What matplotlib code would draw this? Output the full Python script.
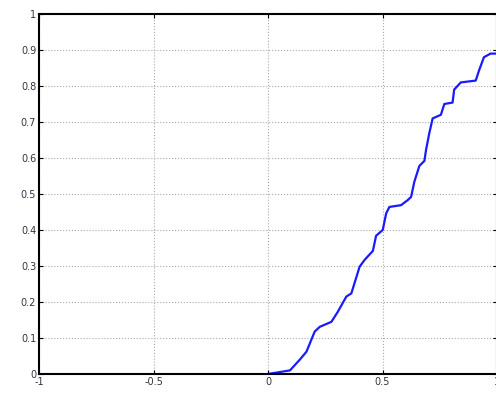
import matplotlib
matplotlib.use("Agg")
import matplotlib.pyplot as plt

# curve
x_vals = [0.0, 0.096, 0.139, 0.168, 0.204, 0.226, 0.277, 0.305, 0.342, 0.364,
          0.40, 0.422, 0.458, 0.472, 0.501, 0.516, 0.530, 0.581, 0.610, 0.625,
          0.639, 0.661, 0.683, 0.690, 0.704, 0.719, 0.755, 0.770, 0.806, 0.813,
          0.842, 0.907, 0.922, 0.943, 0.972, 1.0]
y_vals = [0.0, 0.01, 0.04, 0.062, 0.118, 0.131, 0.145, 0.173, 0.215, 0.224,
          0.298, 0.317, 0.342, 0.384, 0.40, 0.446, 0.464, 0.469, 0.483, 0.492,
          0.534, 0.578, 0.592, 0.622, 0.668, 0.71, 0.72, 0.75, 0.754, 0.79,
          0.81, 0.815, 0.844, 0.88, 0.89, 0.89]

x_ticks = [-1, -0.5, 0, 0.5, 1]
x_labels = ["-1", "-0.5", "0", "0.5", "1"]
y_ticks = [0, 0.1, 0.2, 0.3, 0.4, 0.5, 0.6, 0.7, 0.8, 0.9, 1]
y_labels = ["0", "0.1", "0.2", "0.3", "0.4", "0.5", "0.6", "0.7", "0.8", "0.9", "1"]

fig = plt.figure(figsize=(4.96, 3.96), dpi=100)
ax = fig.add_axes([39 / 496, 22 / 396, 458 / 496, 360 / 396])

ax.plot(x_vals, y_vals, color="#1a1aff", linewidth=1.6)

ax.set_xlim(-1, 1)
ax.set_ylim(0, 1)
ax.set_xticks(x_ticks, x_labels, fontsize=7, color="#333344")
ax.set_yticks(y_ticks, y_labels, fontsize=7, color="#333344")
ax.tick_params(direction="in", length=3, width=0.8, top=True, right=True, pad=2)
ax.grid(True, linestyle=":", color="#aaaaaa", linewidth=0.8)
for s in ax.spines.values():
    s.set_linewidth(1.5)

fig.savefig("out.png", dpi=100)
